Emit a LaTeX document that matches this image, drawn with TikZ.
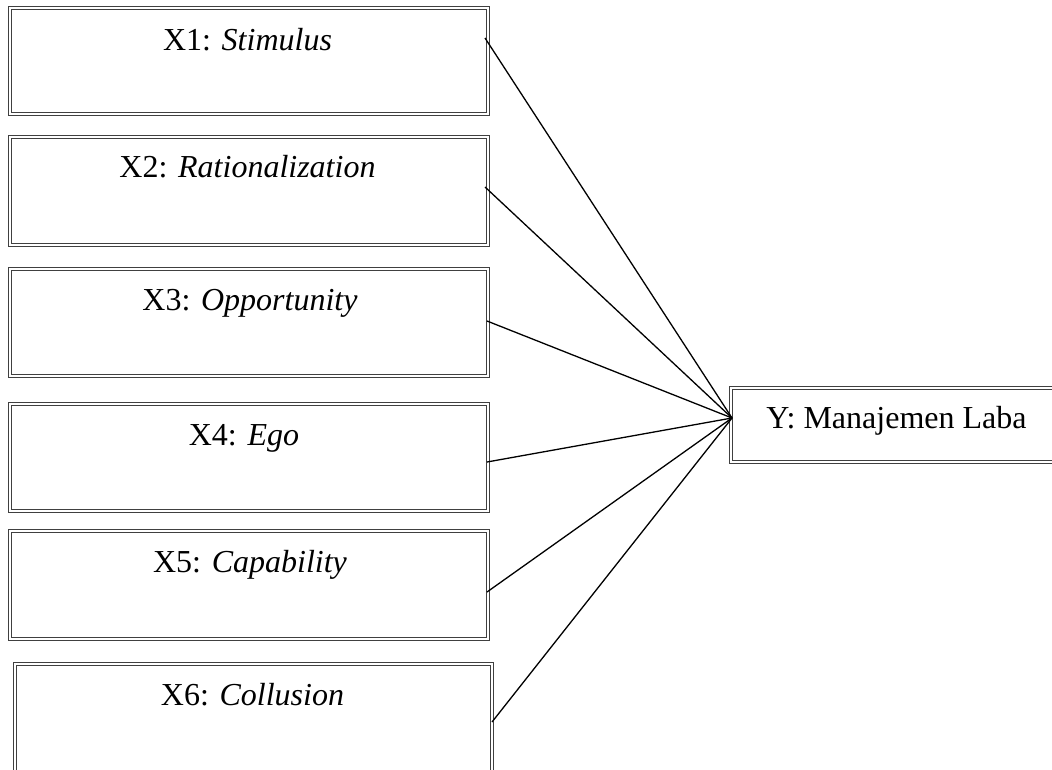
\documentclass[tikz,border=0pt]{standalone}
\usepackage{fontspec}
\setmainfont{Liberation Serif}
\begin{document}
\begin{tikzpicture}[x=1pt,y=-1pt,
  box/.style={draw=black!75, double, double distance=1.6pt, line width=0.8pt, fill=white, inner sep=0pt},
  lbl/.style={anchor=base, inner sep=0pt, font=\fontsize{32}{38}\selectfont},
  link/.style={line width=1.3pt, black}]
\useasboundingbox (0,0) rectangle (1052,769);
% boxes
\node[box, minimum width=478pt, minimum height=106pt] (x1) at (249,61) {};
\node[box, minimum width=478pt, minimum height=108pt] (x2) at (249,191) {};
\node[box, minimum width=478pt, minimum height=107pt] (x3) at (249,322.5) {};
\node[box, minimum width=478pt, minimum height=107pt] (x4) at (249,457.5) {};
\node[box, minimum width=478pt, minimum height=108pt] (x5) at (249,585) {};
\node[box, minimum width=477pt, minimum height=108pt] (x6) at (253.5,718) {};
\node[box, minimum width=331pt, minimum height=74pt] (y) at (896.5,425) {};
% labels
\node[lbl] (t1) at (247.5,50) {X1: \textit{Stimulus}};
\node[lbl] (t2) at (247.5,177) {X2: \textit{Rationalization}};
\node[lbl] (t3) at (250,310) {X3: \textit{Opportunity}};
\node[lbl] (t4) at (244,445) {X4: \textit{Ego}};
\node[lbl] (t5) at (250,572) {X5: \textit{Capability}};
\node[lbl] (t6) at (252.5,705) {X6: \textit{Collusion}};
\node[lbl] (ty) at (896.5,428) {Y: Manajemen Laba};
% connector endpoints
\coordinate (s1) at (485,38);
\coordinate (s2) at (485,187);
\coordinate (s3) at (487,321);
\coordinate (s4) at (487,462);
\coordinate (s5) at (487,592);
\coordinate (s6) at (492,722);
\coordinate (apex) at (732,418);
\foreach \s in {s1,s2,s3,s4,s5,s6} \draw[link] (\s) -- (apex);
\end{tikzpicture}
\end{document}
